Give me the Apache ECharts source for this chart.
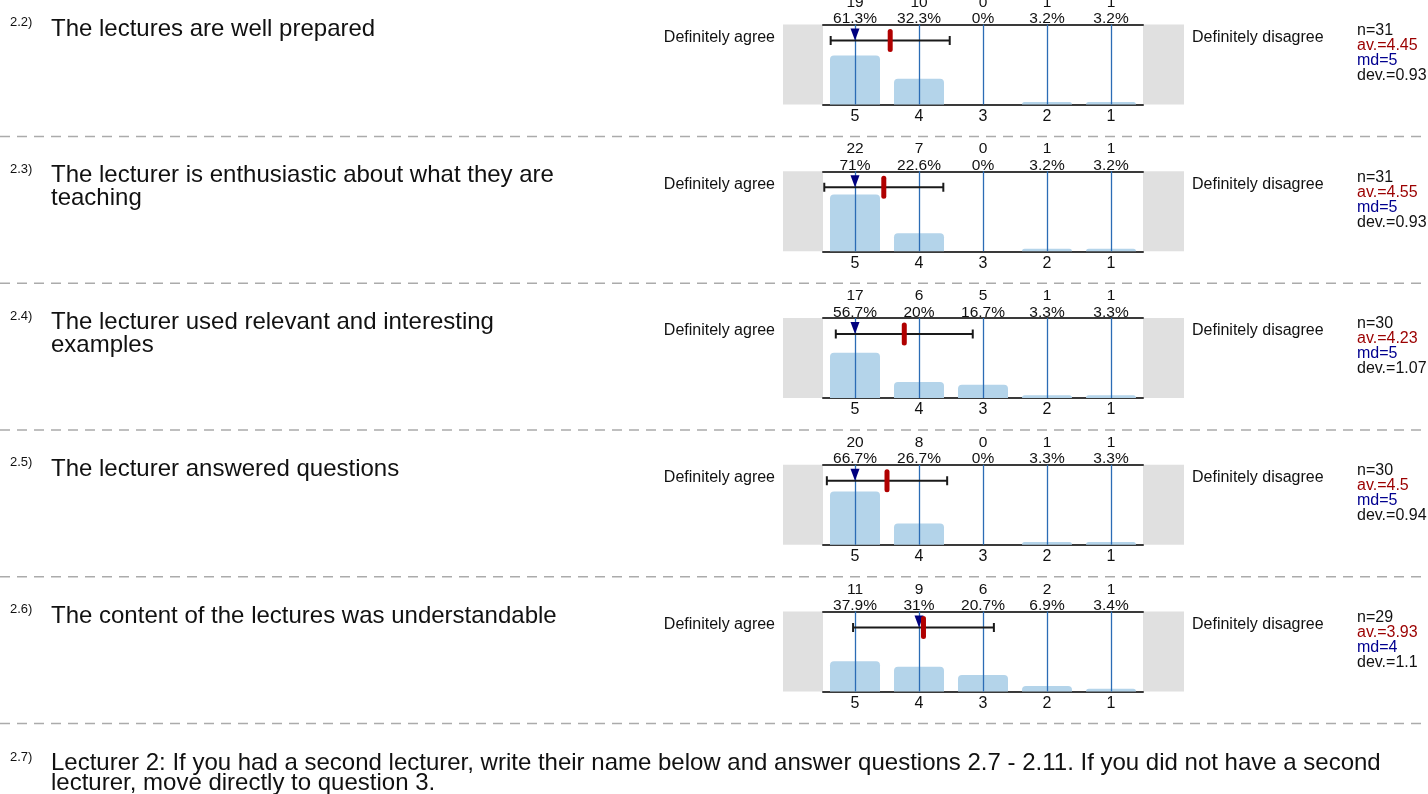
<!DOCTYPE html>
<html><head><meta charset="utf-8">
<script src="https://cdn.jsdelivr.net/npm/echarts@6/dist/echarts.min.js"></script>
<style>html,body{margin:0;padding:0;background:#fff}#c{width:1428px;height:794px}</style>
</head><body><div id="c"></div>
<script>
const categories = ['5', '4', '3', '2', '1'];
const questionNumbers = ['2.2)', '2.3)', '2.4)', '2.5)', '2.6)'];
const questionTexts = [
  'The lectures are well prepared',
  'The lecturer is enthusiastic about what they are\nteaching',
  'The lecturer used relevant and interesting\nexamples',
  'The lecturer answered questions',
  'The content of the lectures was understandable'
];
const counts = [
  [19, 10, 0, 1, 1],
  [22, 7, 0, 1, 1],
  [17, 6, 5, 1, 1],
  [20, 8, 0, 1, 1],
  [11, 9, 6, 2, 1]
];
const percents = [
  [61.3, 32.3, 0, 3.2, 3.2],
  [71, 22.6, 0, 3.2, 3.2],
  [56.7, 20, 16.7, 3.3, 3.3],
  [66.7, 26.7, 0, 3.3, 3.3],
  [37.9, 31, 20.7, 6.9, 3.4]
];
const nValues = [31, 31, 30, 30, 29];
const averages = [4.45, 4.55, 4.23, 4.5, 3.93];
const medians = [5, 5, 5, 5, 4];
const deviations = [0.93, 0.93, 1.07, 0.94, 1.1];
const leftPole = 'Definitely agree';
const rightPole = 'Definitely disagree';
const nextNumber = '2.7)';
const nextText = 'Lecturer 2: If you had a second lecturer, write their name below and answer questions 2.7 - 2.11. If you did not have a second\nlecturer, move directly to question 3.';

const FONT = '"Liberation Sans", Arial, sans-serif';
const PITCH = 146.75, TOP0 = 24.5, GL = 823, GW = 320, GH = 80;
const GRAY = '#e0e0e0', BAR = '#b4d4ea', VLINE = '#2b6cb5', AXIS = '#3a3a3a';
const ERR_LEVEL = 80;

const chart = echarts.init(document.getElementById('c'), null, {renderer: 'canvas'});
const grids = [], xAxes = [], yAxes = [], series = [], graphics = [];

for (let i = 0; i < 5; i++) {
  const top = TOP0 + i * PITCH;
  grids.push({left: GL, top: top, width: GW, height: GH, containLabel: false, outerBoundsMode: 'none'});
  xAxes.push({
    type: 'category', gridIndex: i, position: 'bottom', data: categories,
    axisLine: {show: true, lineStyle: {color: AXIS, width: 2}},
    axisTick: {show: false},
    axisLabel: {interval: 0, margin: 4, fontSize: 16, lineHeight: 16, color: '#111', fontFamily: FONT},
    splitLine: {show: false}
  });
  xAxes.push({
    type: 'category', gridIndex: i, position: 'top', data: categories,
    axisLine: {show: true, lineStyle: {color: AXIS, width: 2}},
    axisTick: {show: false},
    axisLabel: {
      interval: 0, margin: -2.5, fontSize: 15.5, lineHeight: 16.5, color: '#111', fontFamily: FONT,
      formatter: (v, idx) => counts[i][idx] + '\n' + percents[i][idx] + '%'
    },
    splitLine: {show: false}
  });
  xAxes.push({
    type: 'value', gridIndex: i, min: 0.5, max: 5.5, inverse: true, show: false
  });
  yAxes.push({type: 'value', gridIndex: i, min: 0, max: 100, show: false});

  series.push({
    type: 'bar', xAxisIndex: 3 * i, yAxisIndex: i, data: percents[i],
    barWidth: 50, silent: true,
    itemStyle: {color: BAR, borderRadius: [4, 4, 0, 0]},
    markLine: {
      silent: true, symbol: 'none', animation: false,
      label: {show: false},
      lineStyle: {color: VLINE, width: 1.3, type: 'solid'},
      data: categories.map((c, k) => ({xAxis: k}))
    },
    animation: false
  });
  series.push({
    type: 'custom', xAxisIndex: 3 * i + 2, yAxisIndex: i, silent: true, animation: false,
    z: 5,
    data: [[averages[i], deviations[i], medians[i]]],
    renderItem: (params, api) => {
      const m = api.value(0), d = api.value(1), md = api.value(2);
      const pL = api.coord([m + d, ERR_LEVEL]);
      const pR = api.coord([m - d, ERR_LEVEL]);
      const pM = api.coord([m, ERR_LEVEL]);
      const pMd = api.coord([md, ERR_LEVEL]);
      const y = pM[1];
      const ink = '#1a1a1a';
      return {
        type: 'group',
        children: [
          {type: 'line', shape: {x1: pL[0], y1: y, x2: pR[0], y2: y}, style: {stroke: ink, lineWidth: 2}},
          {type: 'line', shape: {x1: pL[0], y1: y - 4.5, x2: pL[0], y2: y + 4.5}, style: {stroke: ink, lineWidth: 2}},
          {type: 'line', shape: {x1: pR[0], y1: y - 4.5, x2: pR[0], y2: y + 4.5}, style: {stroke: ink, lineWidth: 2}},
          {type: 'polygon', shape: {points: [[pMd[0] - 4.5, y - 12], [pMd[0] + 4.5, y - 12], [pMd[0], y]]}, style: {fill: '#00007f'}},
          {type: 'rect', shape: {x: pM[0] - 2.5, y: y - 11.5, width: 5, height: 23, r: 2.5}, style: {fill: '#b00000'}}
        ]
      };
    }
  });

  graphics.push({type: 'rect', left: 783, top: top, shape: {width: 40, height: GH}, style: {fill: GRAY}, z: -1, silent: true});
  graphics.push({type: 'rect', left: 1143, top: top, shape: {width: 41, height: GH}, style: {fill: GRAY}, z: -1, silent: true});
  graphics.push({type: 'line', shape: {x1: 0, y1: top + 112, x2: 1428, y2: top + 112}, style: {stroke: '#ababab', lineWidth: 1.3, lineDash: [10, 7]}, silent: true});
  graphics.push({type: 'text', x: 10, y: top - 2, style: {text: questionNumbers[i], font: '13px ' + FONT, fill: '#111', textVerticalAlign: 'middle'}, silent: true});
  graphics.push({type: 'text', x: 51, y: top - 7, style: {text: questionTexts[i], font: '24px ' + FONT, fill: '#111', lineHeight: 23, textVerticalAlign: 'top'}, silent: true});
  graphics.push({type: 'text', x: 775, y: top + 13, style: {text: leftPole, font: '16px ' + FONT, fill: '#111', textAlign: 'right', textVerticalAlign: 'middle'}, silent: true});
  graphics.push({type: 'text', x: 1192, y: top + 13, style: {text: rightPole, font: '16px ' + FONT, fill: '#111', textAlign: 'left', textVerticalAlign: 'middle'}, silent: true});
  const stats = [
    ['n=' + nValues[i], '#111'],
    ['av.=' + averages[i], '#9b0000'],
    ['md=' + medians[i], '#00008f'],
    ['dev.=' + deviations[i], '#111']
  ];
  stats.forEach((s, k) => {
    graphics.push({type: 'text', x: 1357, y: top + 6 + 15 * k, style: {text: s[0], font: '16px ' + FONT, fill: s[1], textVerticalAlign: 'middle'}, silent: true});
  });
}
const lastTop = TOP0 + 5 * PITCH;
graphics.push({type: 'text', x: 10, y: lastTop - 1, style: {text: nextNumber, font: '13px ' + FONT, fill: '#111', textVerticalAlign: 'middle'}, silent: true});
graphics.push({type: 'text', x: 51, y: lastTop - 4.5, style: {text: nextText, font: '24px ' + FONT, fill: '#111', lineHeight: 20, textVerticalAlign: 'top'}, silent: true});

chart.setOption({
  animation: false,
  backgroundColor: '#fff',
  grid: grids, xAxis: xAxes, yAxis: yAxes, series: series, graphic: graphics
});
</script></body></html>
